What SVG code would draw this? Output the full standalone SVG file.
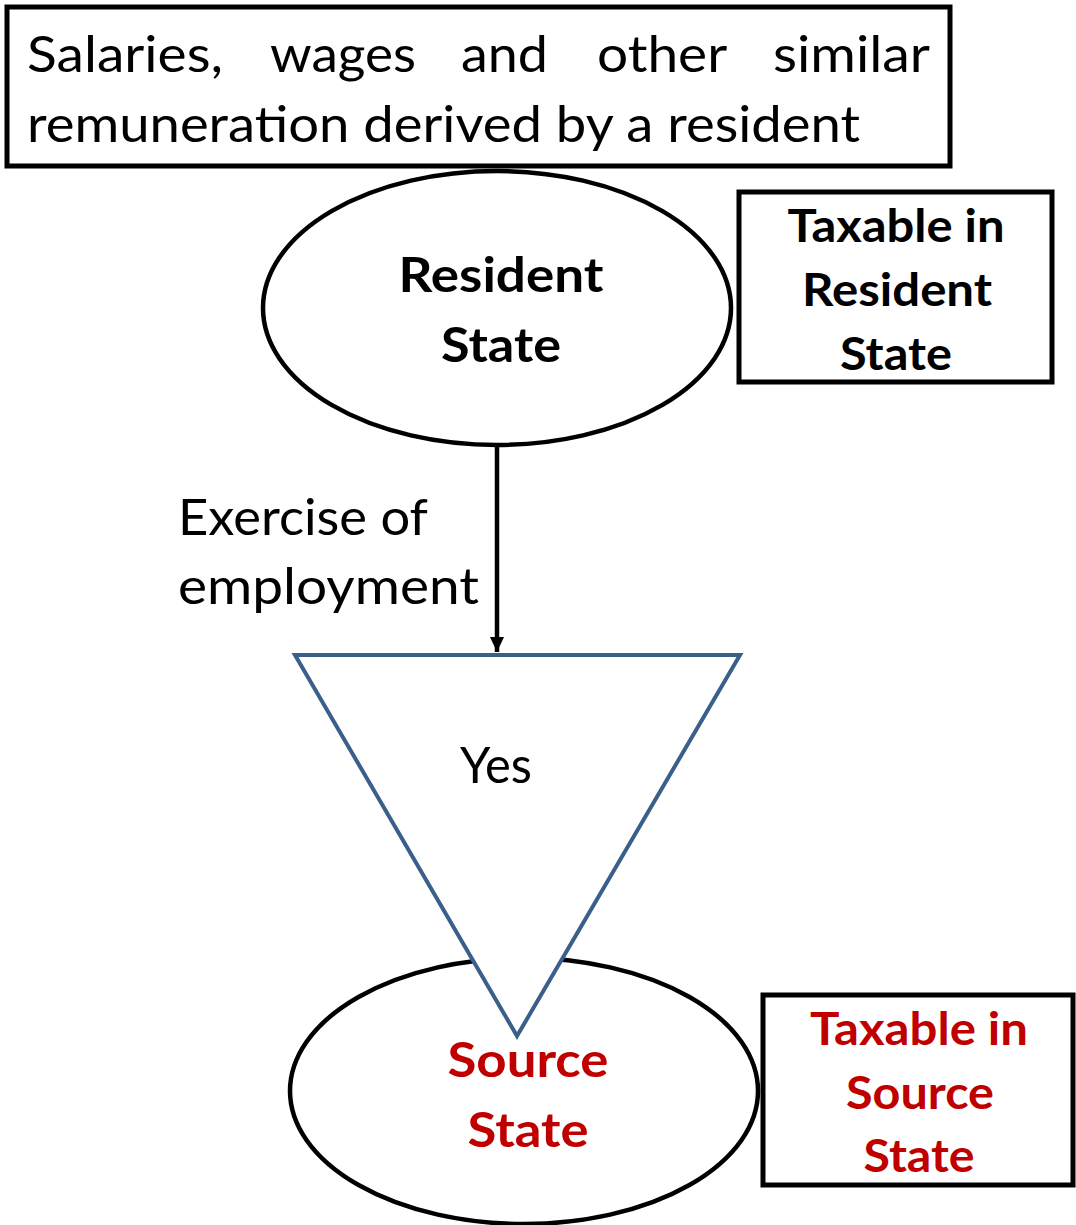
<svg xmlns="http://www.w3.org/2000/svg" width="1076" height="1225" viewBox="0 0 1076 1225">
  <style>
    .box { fill: #ffffff; stroke: #000000; stroke-width: 5; }
    .ell { fill: #ffffff; stroke: #000000; stroke-width: 4.5; }
    .tri { fill: #ffffff; stroke: #3A5F8B; stroke-width: 4; stroke-linejoin: miter; }
    .t { font-family: Lato, "Open Sans", "Liberation Sans", sans-serif; fill: #000000; }
    .reg { font-size: 51px; font-weight: normal; }
    .bold { font-weight: bold; }
    .red { fill: #C00000; }
    .mid { text-anchor: middle; }
    .edge { stroke: #000000; stroke-width: 4.5; fill: none; }
  </style>
  <defs>
    <marker id="arrow" markerUnits="userSpaceOnUse" markerWidth="18" markerHeight="18" refX="15" refY="9" orient="auto">
      <path d="M0,2 L15,9 L0,16 Z" fill="#000000"/>
    </marker>
  </defs>

  <rect width="1076" height="1225" fill="#ffffff"/>

  <!-- heading box: salaries and wages -->
  <g id="heading">
    <rect class="box" x="7" y="7" width="943" height="159"/>
    <text class="t reg" y="72">
      <tspan x="27" textLength="196" lengthAdjust="spacingAndGlyphs">Salaries,</tspan>
      <tspan x="270" textLength="146" lengthAdjust="spacingAndGlyphs">wages</tspan>
      <tspan x="461" textLength="87" lengthAdjust="spacingAndGlyphs">and</tspan>
      <tspan x="597" textLength="129" lengthAdjust="spacingAndGlyphs">other</tspan>
      <tspan x="773" textLength="157" lengthAdjust="spacingAndGlyphs">similar</tspan>
    </text>
    <text class="t reg" x="27" y="142" textLength="833" lengthAdjust="spacingAndGlyphs">remuneration derived by a resident</text>
  </g>

  <!-- resident state ellipse -->
  <g id="resident-state">
    <ellipse class="ell" cx="497" cy="308" rx="234" ry="137"/>
    <text class="t bold mid" font-size="48" x="501" y="292" textLength="205" lengthAdjust="spacingAndGlyphs">Resident</text>
    <text class="t bold mid" font-size="48" x="501" y="362" textLength="120" lengthAdjust="spacingAndGlyphs">State</text>
  </g>

  <!-- taxable in resident state -->
  <g id="taxable-resident">
    <rect class="box" x="739" y="192" width="313" height="190"/>
    <text class="t bold mid" font-size="46" x="896" y="242" textLength="217" lengthAdjust="spacingAndGlyphs">Taxable in</text>
    <text class="t bold mid" font-size="46" x="897" y="306" textLength="190" lengthAdjust="spacingAndGlyphs">Resident</text>
    <text class="t bold mid" font-size="46" x="896" y="370" textLength="112" lengthAdjust="spacingAndGlyphs">State</text>
  </g>

  <!-- connectors -->
  <g id="connectors">
    <line class="edge" x1="497" y1="446" x2="497" y2="652" marker-end="url(#arrow)"/>
    <text class="t reg" x="178" y="535" textLength="250" lengthAdjust="spacingAndGlyphs">Exercise of</text>
    <text class="t reg" x="178" y="604" textLength="301" lengthAdjust="spacingAndGlyphs">employment</text>
  </g>

  <!-- source state ellipse -->
  <g id="source-state">
    <ellipse class="ell" cx="524" cy="1091" rx="234" ry="133"/>
  </g>

  <!-- yes triangle -->
  <g id="yes">
    <polygon class="tri" points="295,655 740,655 517,1036"/>
    <text class="t reg mid" x="496" y="783" textLength="72" lengthAdjust="spacingAndGlyphs">Yes</text>
  </g>

  <g id="source-state-label">
    <text class="t bold red mid" font-size="48" x="528" y="1077" textLength="161" lengthAdjust="spacingAndGlyphs">Source</text>
    <text class="t bold red mid" font-size="48" x="528" y="1147" textLength="121" lengthAdjust="spacingAndGlyphs">State</text>
  </g>

  <!-- taxable in source state -->
  <g id="taxable-source">
    <rect class="box" x="763" y="995" width="310" height="190"/>
    <text class="t bold red mid" font-size="46" x="919" y="1045" textLength="218" lengthAdjust="spacingAndGlyphs">Taxable in</text>
    <text class="t bold red mid" font-size="46" x="920" y="1109" textLength="148" lengthAdjust="spacingAndGlyphs">Source</text>
    <text class="t bold red mid" font-size="46" x="919" y="1172" textLength="111" lengthAdjust="spacingAndGlyphs">State</text>
  </g>
</svg>
